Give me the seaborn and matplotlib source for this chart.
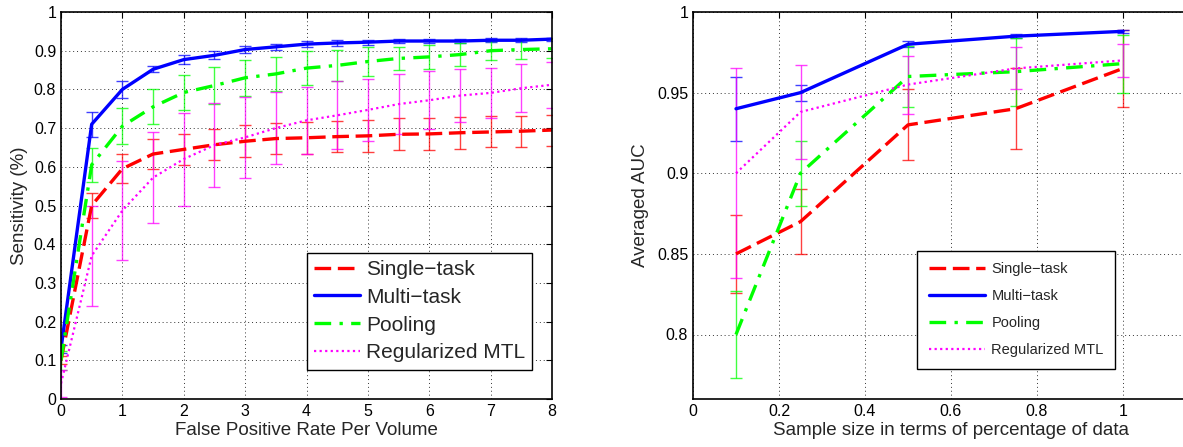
import numpy as np
import pandas as pd
import matplotlib
matplotlib.use('Agg')
import matplotlib.pyplot as plt
from matplotlib.ticker import FuncFormatter
import seaborn as sns

# ---- data: left panel (FROC-style curves) ----
fp_rate = [0, 0.5, 1, 1.5, 2, 2.5, 3, 3.5, 4, 4.5, 5, 5.5, 6, 6.5, 7, 7.5, 8]

sens_single = [0.10, 0.50, 0.595, 0.633, 0.645, 0.657, 0.666, 0.673, 0.675, 0.678,
               0.680, 0.684, 0.685, 0.688, 0.690, 0.692, 0.695]
err_single = [0.01, 0.032, 0.038, 0.039, 0.040, 0.040, 0.041, 0.041, 0.042, 0.041,
              0.041, 0.041, 0.041, 0.041, 0.040, 0.040, 0.040]

sens_multi = [0.13, 0.71, 0.80, 0.852, 0.877, 0.888, 0.903, 0.910, 0.917, 0.920,
              0.922, 0.925, 0.925, 0.925, 0.927, 0.927, 0.930]
err_multi = [0.01, 0.032, 0.022, 0.008, 0.012, 0.010, 0.008, 0.008, 0.007, 0.007,
             0.006, 0.005, 0.005, 0.005, 0.005, 0.005, 0.004]

sens_pool = [0.10, 0.605, 0.705, 0.755, 0.792, 0.810, 0.830, 0.840, 0.855, 0.862,
             0.872, 0.880, 0.884, 0.890, 0.900, 0.903, 0.905]
err_pool = [0.025, 0.044, 0.047, 0.045, 0.046, 0.049, 0.046, 0.045, 0.043, 0.040,
            0.037, 0.030, 0.030, 0.030, 0.025, 0.025, 0.025]

sens_reg = [0.04, 0.37, 0.487, 0.572, 0.620, 0.656, 0.676, 0.700, 0.720, 0.733,
            0.747, 0.762, 0.772, 0.784, 0.791, 0.803, 0.812]
err_reg = [0.035, 0.13, 0.128, 0.118, 0.120, 0.108, 0.105, 0.093, 0.087, 0.088,
           0.080, 0.078, 0.075, 0.069, 0.065, 0.062, 0.060]

# ---- data: right panel (AUC vs sample size) ----
sample_frac = [0.1, 0.25, 0.5, 0.75, 1.0]

auc_single = [0.850, 0.870, 0.930, 0.940, 0.965]
auc_err_single = [0.024, 0.020, 0.022, 0.025, 0.024]

auc_multi = [0.940, 0.950, 0.980, 0.985, 0.988]
auc_err_multi = [0.020, 0.005, 0.002, 0.0012, 0.001]

auc_pool = [0.800, 0.900, 0.960, 0.963, 0.968]
auc_err_pool = [0.027, 0.020, 0.019, 0.021, 0.018]

auc_reg = [0.900, 0.938, 0.955, 0.965, 0.970]
auc_err_reg = [0.065, 0.029, 0.018, 0.013, 0.010]

methods = ['Single\u2212task', 'Multi\u2212task', 'Pooling', 'Regularized MTL']
colors = {methods[0]: '#ff0000', methods[1]: '#0000ff',
          methods[2]: '#00ff00', methods[3]: '#ff00ff'}
dashes = {methods[0]: (5, 2), methods[1]: '',
          methods[2]: (5, 2.5, 1, 2.5), methods[3]: (1, 1.5)}
widths = {methods[0]: 2.4, methods[1]: 2.4, methods[2]: 2.4, methods[3]: 1.6}


def long_frame(x, series):
    rows = []
    for name, ys in zip(methods, series):
        for xv, yv in zip(x, ys):
            rows.append({'x': xv, 'y': yv, 'method': name})
    return pd.DataFrame(rows)


def draw_panel(ax, x, series, errs):
    df = long_frame(x, series)
    sns.lineplot(data=df, x='x', y='y', hue='method', style='method',
                 hue_order=methods, style_order=methods,
                 palette=colors, dashes=dashes, errorbar=None,
                 linewidth=2.4, ax=ax, legend=True)
    for line, name in zip(ax.get_lines()[:4], methods):
        line.set_linewidth(widths[name])
    for name, ys, es in zip(methods, series, errs):
        ax.errorbar(x, ys, yerr=es, fmt='none', ecolor=colors[name],
                    elinewidth=1.0, capsize=4, capthick=1.0, alpha=0.75,
                    zorder=1)


def style_axes(ax):
    ax.grid(True, color='0.2', linestyle=(0, (1, 3)), linewidth=0.7)
    ax.tick_params(direction='in', top=True, right=True, length=4,
                   labelsize=11.5, colors='black')
    for s in ax.spines.values():
        s.set_color('black')
        s.set_linewidth(1.2)
    ax.xaxis.set_major_formatter(FuncFormatter(lambda v, p: f'{v:g}'))
    ax.yaxis.set_major_formatter(FuncFormatter(lambda v, p: f'{v:g}'))


def fix_handles(ax):
    h, l = ax.get_legend_handles_labels()
    for hh, name in zip(h, l):
        hh.set_linewidth(widths.get(name, 2.4))
    return h, l


sns.set_style('white')
plt.rcParams['font.family'] = ['Liberation Sans', 'DejaVu Sans']

fig = plt.figure(figsize=(11.83, 4.47), dpi=100)
ax1 = fig.add_axes([61 / 1183, 1 - 399 / 447, 491 / 1183, 387 / 447])
ax2 = fig.add_axes([693 / 1183, 1 - 399 / 447, 516 / 1183, 387 / 447])

# left panel
draw_panel(ax1, fp_rate, [sens_single, sens_multi, sens_pool, sens_reg],
           [err_single, err_multi, err_pool, err_reg])
ax1.set_xlim(0, 8)
ax1.set_ylim(0, 1)
ax1.set_xticks(np.arange(0, 9, 1))
ax1.set_yticks(np.arange(0, 1.01, 0.1))
ax1.set_xlabel('False Positive Rate Per Volume', fontsize=13.5, labelpad=2)
ax1.set_ylabel('Sensitivity (%)', fontsize=13.5, labelpad=4)
style_axes(ax1)
h, l = fix_handles(ax1)
leg1 = ax1.legend(h, l, loc='upper left', bbox_to_anchor=(0.5, 0.378),
                  fontsize=15, frameon=True, fancybox=False, framealpha=1,
                  edgecolor='black', handlelength=2.2, labelspacing=0.42,
                  borderpad=0.35, handletextpad=0.3, borderaxespad=0)
leg1.get_frame().set_linewidth(1.0)

# right panel
draw_panel(ax2, sample_frac, [auc_single, auc_multi, auc_pool, auc_reg],
           [auc_err_single, auc_err_multi, auc_err_pool, auc_err_reg])
ax2.set_xlim(0, 1.2)
ax2.set_ylim(0.76, 1)
ax2.set_xticks([0, 0.2, 0.4, 0.6, 0.8, 1.0])
ax2.set_yticks([0.8, 0.85, 0.9, 0.95, 1.0])
ax2.set_xlabel('Sample size in terms of percentage of data', fontsize=13.5, labelpad=2)
ax2.set_ylabel('Averaged AUC', fontsize=13.5, labelpad=6)
style_axes(ax2)
h, l = fix_handles(ax2)
leg2 = ax2.legend(h, l, loc='upper left', bbox_to_anchor=(0.434, 0.383),
                  fontsize=10.5, frameon=True, fancybox=False, framealpha=1,
                  edgecolor='black', handlelength=3.9, labelspacing=0.88,
                  borderpad=0.8, handletextpad=0.4, borderaxespad=0)
leg2.get_frame().set_linewidth(1.0)

fig.savefig('out.png', dpi=100)
